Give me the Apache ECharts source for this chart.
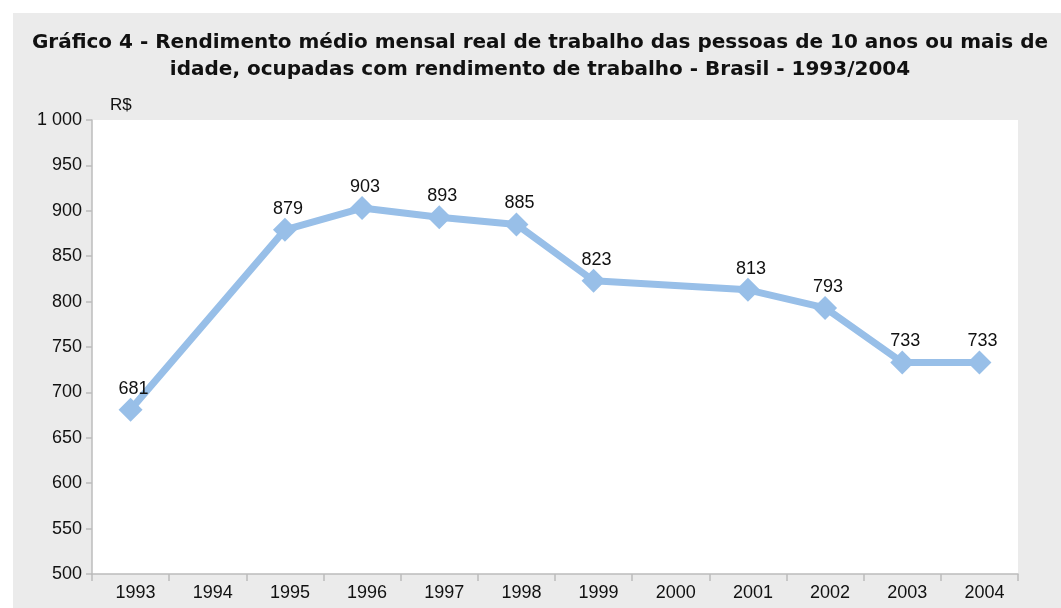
<!DOCTYPE html>
<html>
<head>
<meta charset="utf-8">
<script src="https://cdn.jsdelivr.net/npm/echarts@6/dist/echarts.min.js"></script>
<style>
  html, body { margin: 0; padding: 0; background: #fff; }
  #chart { width: 1061px; height: 608px; }
</style>
</head>
<body>
<div id="chart"></div>
<script>
// dados PNAD - rendimento médio real (R$)
var anos = ['1993', '1994', '1995', '1996', '1997', '1998', '1999', '2000', '2001', '2002', '2003', '2004'];
var rendimento = [681, null, 879, 903, 893, 885, 823, null, 813, 793, 733, 733];
var yTicks = [500, 550, 600, 650, 700, 750, 800, 850, 900, 950, 1000];

var chart = echarts.init(document.getElementById('chart'));
var fonte = '"Liberation Sans", Arial, sans-serif';

chart.setOption({
    backgroundColor: '#fff',
    textStyle: {fontFamily: fonte},
    graphic: [{
        type: 'rect',
        z: -10,
        shape: {x: 13, y: 13, width: 1048, height: 595},
        style: {fill: '#ebebeb'}
    }, {
        type: 'text',
        left: 110, top: 97,
        style: {text: 'R$', font: '17px ' + fonte, fill: '#111'}
    }],
    title: {
        text: 'Gráfico 4 - Rendimento médio mensal real de trabalho das pessoas de 10 anos ou mais de\nidade, ocupadas com rendimento de trabalho - Brasil - 1993/2004',
        left: 535,
        top: 24,
        textAlign: 'center',
        textStyle: {fontSize: 20, fontWeight: 'bold', color: '#111', lineHeight: 27, fontFamily: '"DejaVu Sans", sans-serif'}
    },
    grid: {left: 92, right: 43, top: 120, bottom: 34, show: true, backgroundColor: '#fff', borderWidth: 0},
    xAxis: {
        type: 'category',
        data: anos,
        boundaryGap: true,
        axisLine: {lineStyle: {color: '#bcbcbc', width: 1.5}},
        axisTick: {show: true, length: 7, lineStyle: {color: '#bcbcbc', width: 1.5}},
        axisLabel: {color: '#111', fontSize: 18, margin: 10, padding: [0, 0, 0, 10]}
    },
    yAxis: {
        type: 'value',
        min: yTicks[0],
        max: yTicks[yTicks.length - 1],
        interval: 50,
        splitLine: {show: false},
        axisLine: {show: true, lineStyle: {color: '#bcbcbc', width: 1.5}},
        axisTick: {show: true, length: 6, lineStyle: {color: '#bcbcbc', width: 1.5}},
        axisLabel: {
            color: '#111', fontSize: 18, margin: 10,
            formatter: function (v) { return v >= 1000 ? '1 000' : String(v); }
        }
    },
    series: [{
        type: 'line',
        data: rendimento,
        connectNulls: true,
        symbol: 'diamond',
        symbolSize: 24,
        lineStyle: {color: '#98bfe8', width: 7},
        itemStyle: {color: '#98bfe8'},
        label: {show: true, position: 'top', distance: 0, color: '#111', fontSize: 18, padding: [0, 0, 0, 6]},
        animation: false
    }]
});
</script>
</body>
</html>
